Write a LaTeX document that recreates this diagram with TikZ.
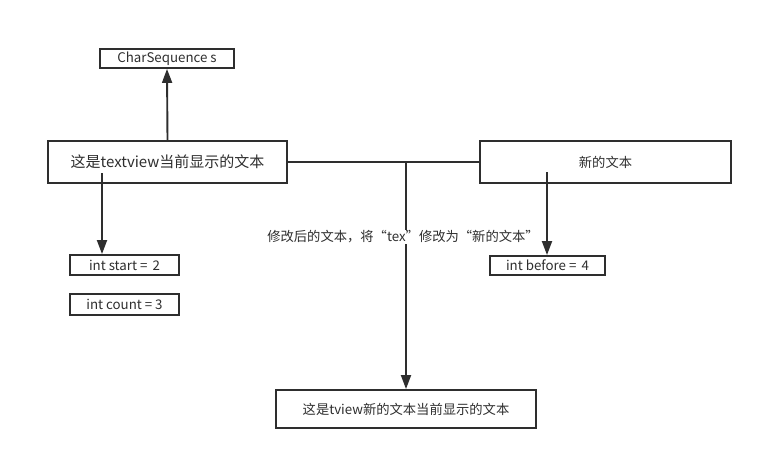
\documentclass[tikz,border=0pt]{standalone}
\usepackage{fontspec}
\setmainfont{Noto Sans CJK SC}
\usetikzlibrary{arrows.meta}
\definecolor{ink}{HTML}{2E2E2E}
\tikzset{
  box/.style={draw=ink, line width=1.9pt, text=ink, inner sep=0pt, font=\fontsize{13.3pt}{15pt}\selectfont},
  bigbox/.style={box, font=\fontsize{15pt}{17pt}\selectfont},
  arr/.style={draw=ink, line width=1.9pt, -{Triangle[length=14pt,width=10pt]}},
  ln/.style={draw=ink, line width=1.9pt},
  lbl/.style={text=ink, fill=white, inner sep=1pt, font=\fontsize{13.3pt}{15pt}\selectfont}
}
\begin{document}
\begin{tikzpicture}[x=1pt,y=-1pt]
\useasboundingbox (0,0) rectangle (763,460);
\node[box, minimum width=134pt, minimum height=19pt] (cs) at (167,58.5) {CharSequence s};
\node[bigbox, minimum width=239pt, minimum height=42pt] (main) at (167.5,162) {这是textview当前显示的文本};
\node[box, minimum width=251pt, minimum height=42pt] (new) at (605.5,162) {新的文本};
\node[box, minimum width=260pt, minimum height=38pt] (res) at (406,409) {这是tview新的文本当前显示的文本};
\node[box, minimum width=109pt, minimum height=20pt] (start) at (124.5,265) {int start = \,2};
\node[box, minimum width=109pt, minimum height=21pt] (count) at (124.5,304.5) {int count = 3};
\node[box, minimum width=115pt, minimum height=19pt] (before) at (547.5,265.5) {int before = \,4};
\coordinate (j) at (406,162);
\coordinate (s1) at (102,173);
\coordinate (b1) at (547,172);
\draw[arr] (main.north) -- (cs.south);
\draw[ln] (main.east) -- (new.west);
\draw[arr] (j) -- (res.north);
\draw[arr] (s1) -- (s1 |- start.north);
\draw[arr] (b1) -- (b1 |- before.north);
\node[lbl] (lab) at (403,237) {修改后的文本，将“tex”修改为“新的文本”};
\end{tikzpicture}
\end{document}
